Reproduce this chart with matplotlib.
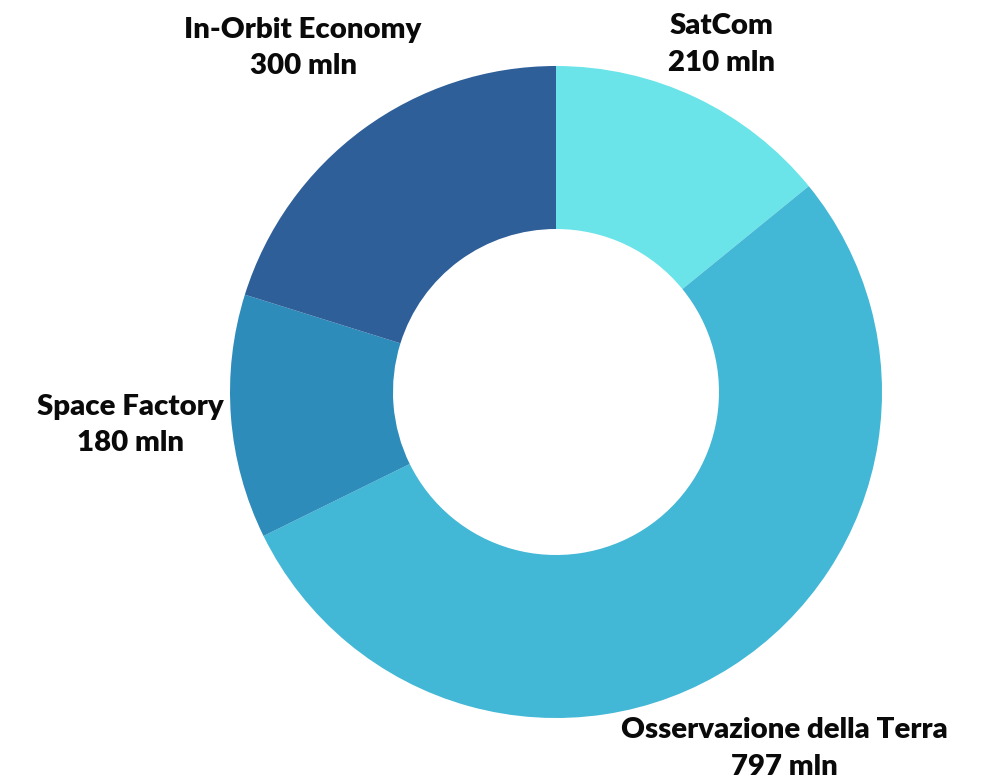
import numpy as np
import matplotlib.pyplot as plt

labels = ['SatCom', 'Osservazione della Terra', 'Space Factory', 'In-Orbit Economy']
values = [210, 797, 180, 300]
colors = ['#6ae4e8', '#42b7d6', '#2e8cbb', '#2e5f99']
label_r = [1.18, 1.30, 1.31, 1.31]

fig = plt.figure(figsize=(9.92, 7.80), dpi=100)
ax = fig.add_axes([0, 0, 1, 1])

ax.pie(values, colors=colors, startangle=90, counterclock=False,
       radius=1, wedgeprops=dict(width=0.5, linewidth=0))

total = sum(values)
start = 0
for lab, v, r in zip(labels, values, label_r):
    mid = (start + v / 2) / total * 2 * np.pi
    start += v
    x = r * np.sin(mid)
    y = r * np.cos(mid)
    ax.text(x, y, f'{lab}\n{v} mln', ha='center', va='center',
            fontsize=21.2, fontweight='heavy', family=['Lato', 'DejaVu Sans'],
            linespacing=1.5, color='#0a0a0a', clip_on=False)

# center (556, 392) px, outer radius 326 px
ax.set_xlim(-556 / 326, (992 - 556) / 326)
ax.set_ylim((392 - 780) / 326, 392 / 326)
ax.set_aspect('equal')
ax.axis('off')

fig.savefig('out.png', dpi=100)
